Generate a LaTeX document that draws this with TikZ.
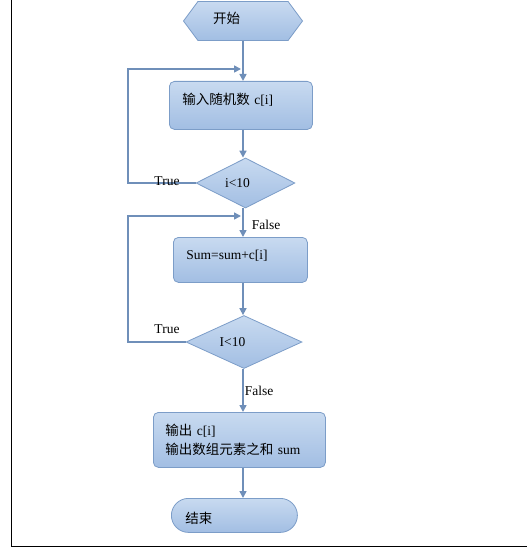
\documentclass[tikz,border=0pt]{standalone}
\usepackage{fontspec}
\setmainfont{Liberation Serif}
\newfontfamily\cjk{Noto Sans CJK SC}
\usepackage{xcolor}
\usepackage{tikz}
\usetikzlibrary{arrows.meta, positioning, shapes.geometric, shapes.symbols}
\definecolor{flowedge}{HTML}{7C9DC8}
\definecolor{flowtop}{HTML}{C8DAF0}
\definecolor{flowbot}{HTML}{A2BEE3}
\definecolor{flowarrow}{HTML}{6F8FB9}

\begin{document}
\begin{tikzpicture}[x=1pt, y=-1pt,
    font=\fontsize{13.5}{19}\selectfont,
    flowfill/.style={top color=flowtop, bottom color=flowbot, draw=flowedge, line width=0.8pt},
    flowbox/.style={flowfill, rectangle, rounded corners=5pt, align=left, inner sep=0pt, anchor=north west},
    decision/.style={flowfill, diamond, inner sep=0pt},
    startsym/.style={flowfill, signal, signal to=west and east, signal pointer angle=107, inner sep=0pt},
    flowline/.style={draw=flowarrow, line width=1.6pt, -{Triangle[length=7pt,width=7pt]}}]
  \useasboundingbox (0,0) rectangle (527,559);
  \draw[line width=1pt] (11,0) -- (11,546) -- (527,546);

  \node[startsym, minimum width=119pt, minimum height=39pt,
        label={[xshift=-16.5pt, yshift=3pt]center:{\cjk 开始}}] (start) at (243,21) {};
  \node[flowbox, minimum width=143pt, minimum height=48pt, text width=117pt,
        text height=10pt, text depth=12pt] (input) at (169,81) {{\cjk 输入随机数} c[i]};
  \node[decision, minimum width=99pt, minimum height=50pt,
        label={[xshift=-8pt]center:i<10}] (cond1) at (245.5,183) {};
  \node[flowbox, minimum width=134pt, minimum height=45pt, text width=108pt,
        text height=10pt, text depth=11pt] (calc) at (173,237) {Sum=sum+c[i]};
  \node[decision, minimum width=116pt, minimum height=53pt,
        label={[xshift=-11.5pt]center:I<10}] (cond2) at (244,342) {};
  \node[flowbox, minimum width=172pt, minimum height=55pt, text width=148pt] (output) at (153,412)
    {{\cjk 输出} c[i]\\{\cjk 输出数组元素之和} sum};
  \node[flowbox, rounded corners=17pt, minimum width=126pt, minimum height=34pt, text width=98pt,
        text height=18pt, text depth=2pt] (stop) at (171,498) {\cjk 结束};

  \coordinate (back1) at (243,69);
  \coordinate (back2) at (243,216);

  \draw[flowline] (start.south) -- (start.south |- input.north);
  \draw[flowline] (input.south -| start) -- (cond1.north -| start);
  \draw[flowline] (cond1.south -| start) -- (calc.north -| start);
  \draw[flowline] (calc.south -| start) -- (cond2.north -| start);
  \draw[flowline] (cond2.south -| start) -- (output.north -| start);
  \draw[flowline] (output.south -| start) -- (stop.north -| start);
  \draw[flowline, shorten >=2pt] (cond1.west) -| (128,69) -- (back1);
  \draw[flowline, shorten >=2pt] (cond2.west) -| (128,216) -- (back2);

  \node (true1) at (167,181) {True};
  \node (false1) at (266,225) {False};
  \node (true2) at (167,329) {True};
  \node (false2) at (259,391) {False};
\end{tikzpicture}
\end{document}
